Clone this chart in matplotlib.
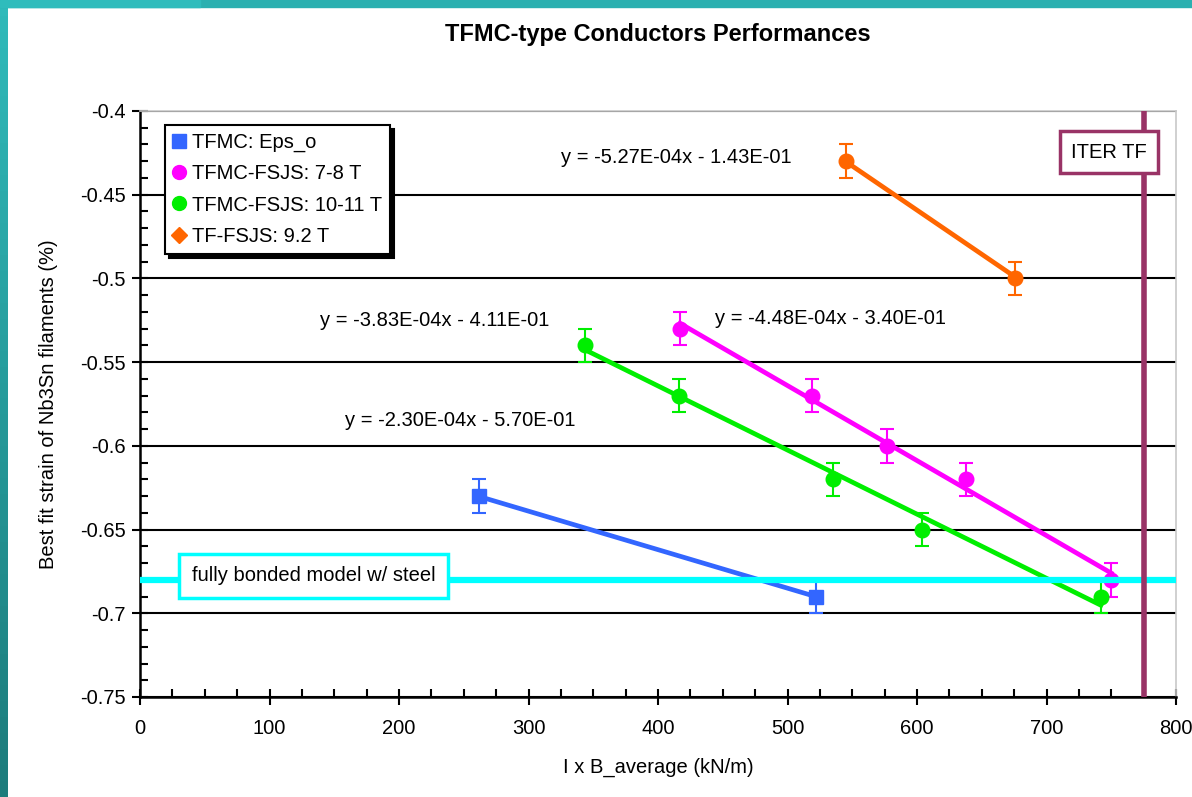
import numpy as np
import matplotlib
matplotlib.use('Agg')
import matplotlib.pyplot as plt
from matplotlib.lines import Line2D
from matplotlib.patches import Rectangle
from matplotlib.ticker import MultipleLocator

plt.rcParams['font.family'] = ['Liberation Sans', 'DejaVu Sans']

# data
x_tfmc = [262, 522]
y_tfmc = [-0.63, -0.69]
x_78 = [417, 519, 577, 638, 750]
y_78 = [-0.53, -0.57, -0.60, -0.62, -0.68]
x_1011 = [344, 416, 535, 604, 742]
y_1011 = [-0.54, -0.57, -0.62, -0.65, -0.69]
x_tf = [545, 676]
y_tf = [-0.43, -0.50]
err = 0.01

# fit coefficients printed on the chart
fits = {
    'tfmc': (-2.30e-4, -0.570),
    '78': (-4.48e-4, -0.340),
    '1011': (-3.83e-4, -0.411),
    'tf': (-5.27e-4, -0.143),
}
eq_labels = ['y = -5.27E-04x - 1.43E-01', 'y = -4.48E-04x - 3.40E-01',
             'y = -3.83E-04x - 4.11E-01', 'y = -2.30E-04x - 5.70E-01']

bonded = -0.68
iter_tf = 775

FS = 14.5

fig = plt.figure(figsize=(11.92, 7.97), dpi=100)
ax = fig.add_axes([140/1192, 1-697/797, 1036/1192, 586/797])

# teal frame
fig.patches.append(Rectangle((0, 1-7/797), 1, 7/797, transform=fig.transFigure,
                             color='#2bb0b0', zorder=0))
fig.patches.append(Rectangle((0, 1-7/797), 200/1192, 7/797, transform=fig.transFigure,
                             color='#2fbcbc', zorder=0))
side = fig.add_axes([0, 0, 8/1192, 1])
side.imshow(np.linspace(0, 1, 50).reshape(-1, 1), aspect='auto',
            cmap=matplotlib.colors.LinearSegmentedColormap.from_list('t', ['#2fbaba', '#1d7c7c']))
side.axis('off')

series = [
    (x_tfmc, y_tfmc, 'tfmc', '#3366ff', 's'),
    (x_78, y_78, '78', '#ff00ff', 'o'),
    (x_1011, y_1011, '1011', '#00ee00', 'o'),
    (x_tf, y_tf, 'tf', '#ff6600', 'o'),
]
for xs, ys, key, c, m in series:
    a, b = fits[key]
    xl = np.array([min(xs), max(xs)])
    ax.plot(xl, a*xl + b, color=c, lw=3.4, zorder=3)
    ax.errorbar(xs, ys, yerr=err, fmt=m, color=c, ms=10.5, capsize=5,
                elinewidth=1.5, capthick=1.5, zorder=4)

ax.axhline(bonded, color='#00ffff', lw=4.5, zorder=5)
ax.axvline(iter_tf, color='#993366', lw=4, zorder=6)

ax.text(40, -0.6775, 'fully bonded model w/ steel', fontsize=FS, ha='left', va='center',
        zorder=7, bbox=dict(boxstyle='square,pad=0.62', fc='white', ec='#00ffff', lw=2.5))
ax.text(748, -0.4245, 'ITER TF', fontsize=FS, ha='center', va='center', zorder=7,
        bbox=dict(boxstyle='square,pad=0.55', fc='white', ec='#993366', lw=2.5))

ax.text(325, -0.428, eq_labels[0], fontsize=FS, va='center')
ax.text(444, -0.524, eq_labels[1], fontsize=FS, va='center')
ax.text(139, -0.525, eq_labels[2], fontsize=FS, va='center')
ax.text(158, -0.585, eq_labels[3], fontsize=FS, va='center')

ax.set_xlim(0, 800)
ax.set_ylim(-0.75, -0.4)
ax.xaxis.set_major_locator(MultipleLocator(100))
ax.xaxis.set_minor_locator(MultipleLocator(25))
ax.yaxis.set_minor_locator(MultipleLocator(0.01))
ax.set_yticks(np.arange(-0.75, -0.39, 0.05))
ax.set_yticklabels(['-0.75', '-0.7', '-0.65', '-0.6', '-0.55', '-0.5', '-0.45', '-0.4'])
ax.tick_params(which='major', direction='inout', length=12, width=1.5, labelsize=FS)
ax.tick_params(axis='x', which='major', pad=10)
ax.tick_params(axis='y', which='major', pad=4)
ax.tick_params(which='minor', direction='in', length=6, width=1.5)
ax.grid(True, axis='y', which='major', color='black', lw=1.5)
ax.set_axisbelow(True)
for s in ['left', 'bottom']:
    ax.spines[s].set_linewidth(1.8)
for s in ['top', 'right']:
    ax.spines[s].set_color('#c8c8c8')
    ax.spines[s].set_linewidth(1.2)

ax.set_xlabel('I x B_average (kN/m)', fontsize=FS, labelpad=14)
ax.set_ylabel('Best fit strain of Nb3Sn filaments (%)', fontsize=FS, labelpad=16)
fig.text(658/1192, 1-35/797, 'TFMC-type Conductors Performances', fontsize=17,
         fontweight='bold', ha='center', va='center')

handles = [
    Line2D([], [], ls='none', marker='s', color='#3366ff', ms=10),
    Line2D([], [], ls='none', marker='o', color='#ff00ff', ms=10),
    Line2D([], [], ls='none', marker='o', color='#00ee00', ms=10),
    Line2D([], [], ls='none', marker='D', color='#ff6600', ms=8.5),
]
names = ['TFMC: Eps_o', 'TFMC-FSJS: 7-8 T', 'TFMC-FSJS: 10-11 T', 'TF-FSJS: 9.2 T']
leg = ax.legend(handles, names, loc='upper left', bbox_to_anchor=(0.024, 0.976),
                borderaxespad=0, fontsize=FS, frameon=True, fancybox=False,
                framealpha=1, edgecolor='black', handlelength=0.6, handletextpad=0.35,
                labelspacing=0.6, borderpad=0.4,
                shadow={'color': 'black', 'alpha': 1, 'ox': 3, 'oy': -3})
leg.get_frame().set_linewidth(1.5)
leg.set_zorder(8)

fig.savefig('out.png', dpi=100)
